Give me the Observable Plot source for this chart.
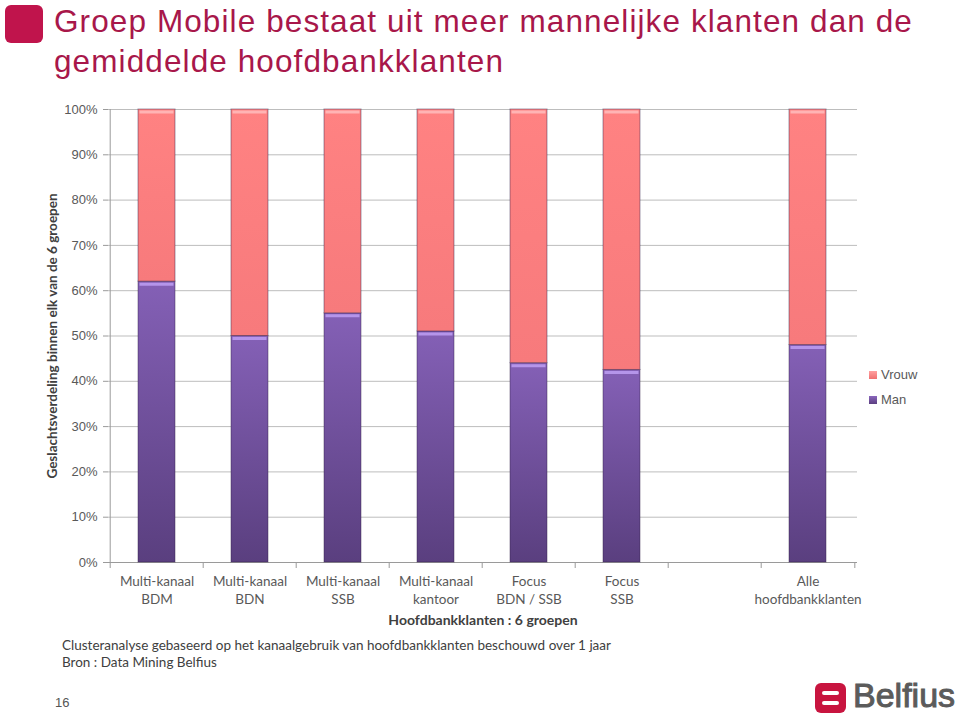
<!DOCTYPE html>
<html>
<head>
<meta charset="utf-8">
<script src="https://cdn.jsdelivr.net/npm/d3@7"></script>
<script src="https://cdn.jsdelivr.net/npm/@observablehq/plot@0.6"></script>
<style>
  html, body { margin: 0; padding: 0; background: #fff; }
  #page { position: relative; width: 960px; height: 716px; overflow: hidden; background: #fff; }
  .abs { position: absolute; white-space: nowrap; }
  #title { left: 54px; top: 1px; font-family: "Liberation Sans", Arial, sans-serif; font-size: 31.5px; line-height: 40px; color: #A8174A; letter-spacing: 1.1px; }
  #icon { left: 5px; top: 5px; width: 38px; height: 38px; border-radius: 6px; background: #C0144C; }
  .foot { left: 62px; font-family: Lato, "Open Sans", sans-serif; font-size: 13.5px; color: #404040; }
  .leg { font-family: "Liberation Sans", Arial, sans-serif; font-size: 13px; color: #595959; }
  .sw { width: 8px; height: 8px; }
</style>
</head>
<body>
<div id="page">
  <div id="icon" class="abs"></div>
  <div id="title" class="abs">Groep Mobile bestaat uit meer mannelijke klanten dan de<br>gemiddelde hoofdbankklanten</div>
  <div id="chart" class="abs" style="left:0;top:0;"></div>
  <div class="abs sw" style="left:869px;top:371px;background:linear-gradient(#ffa0a0,#f07070);"></div>
  <div class="abs leg" style="left:881px;top:367px;">Vrouw</div>
  <div class="abs sw" style="left:869px;top:396px;background:linear-gradient(#8a66bd,#5b3f80);"></div>
  <div class="abs leg" style="left:881px;top:392px;">Man</div>
  <div class="abs foot" style="top:637px;">Clusteranalyse gebaseerd op het kanaalgebruik van hoofdbankklanten beschouwd over 1 jaar</div>
  <div class="abs foot" style="top:654px;">Bron : Data Mining Belfius</div>
  <div class="abs" style="left:55px;top:695px;font-family:'Liberation Sans',Arial,sans-serif;font-size:13px;color:#555;">16</div>
  <div class="abs" style="left:815px;top:683px;width:31px;height:30px;border-radius:6px;background:#C8143F;"></div>
  <div class="abs" style="left:822px;top:691px;width:17px;height:4px;border-radius:2px;background:#fff;"></div>
  <div class="abs" style="left:822px;top:701px;width:17px;height:4px;border-radius:2px;background:#fff;"></div>
  <svg class="abs" style="left:852px;top:674px;" width="106" height="41">
    <text x="1" y="33" font-family="'Liberation Sans', Arial, sans-serif" font-size="34" fill="#5b5b5b" stroke="#5b5b5b" stroke-width="1">Belfius</text>
  </svg>
</div>
<script>
const categories = ["Multi-kanaal\nBDM", "Multi-kanaal\nBDN", "Multi-kanaal\nSSB", "Multi-kanaal\nkantoor", "Focus\nBDN / SSB", "Focus\nSSB", " ", "Alle\nhoofdbankklanten"];
const manValues = [62, 50, 55, 51, 44, 42.5, null, 48];
const vrouwValues = [38, 50, 45, 49, 56, 57.5, null, 52];
const seriesNames = ["Man", "Vrouw"];
const yTicks = [0, 10, 20, 30, 40, 50, 60, 70, 80, 90, 100];
const yLabel = "Geslachtsverdeling binnen elk van de 6 groepen";
const xLabel = "Hoofdbankklanten : 6 groepen";

const rows = [];
categories.forEach((c, i) => {
  if (manValues[i] == null) return;
  rows.push({cat: c, series: "Man", value: manValues[i]});
  rows.push({cat: c, series: "Vrouw", value: vrouwValues[i]});
});
const tops = categories.map((c, i) => ({cat: c, man: manValues[i], total: manValues[i] == null ? null : manValues[i] + vrouwValues[i]})).filter(d => d.man != null);

const W = 960, H = 640, mL = 108, mR = 103, mT = 109, mB = 78;
const step = (W - mL - mR) / categories.length;

const chart = Plot.plot({
  width: W, height: H,
  marginLeft: mL, marginRight: mR, marginTop: mT, marginBottom: mB,
  style: {fontFamily: "Lato, 'Open Sans', sans-serif", background: "transparent"},
  x: {domain: categories, paddingInner: 0.6, paddingOuter: 0.3, axis: null},
  y: {domain: [0, 100], axis: null},
  color: {domain: seriesNames, range: ["url(#gMan)", "url(#gVrouw)"]},
  marks: [
    Plot.gridY(yTicks, {stroke: "#bdbdbd", strokeOpacity: 1}),
    Plot.axisY(yTicks, {tickFormat: d => d + "%", tickSize: 5, tickPadding: 6, stroke: "#9a9a9a", fill: "#595959", fontSize: 13, fontFamily: "'Liberation Sans', Arial, sans-serif", label: null}),
    Plot.ruleX([categories[0]], {y1: 0, y2: 100, dx: -step / 2, stroke: "#9a9a9a"}),
    Plot.ruleY([0], {stroke: "#9a9a9a"}),
    Plot.ruleX(categories, {y1: 0, y2: 0, insetTop: 6, dx: -step / 2, stroke: "#9a9a9a"}),
    Plot.ruleX([categories[categories.length - 1]], {y1: 0, y2: 0, insetTop: 6, dx: step / 2, stroke: "#9a9a9a"}),
    Plot.axisX({tickSize: 0, tickPadding: 11, fill: "#595959", fontSize: 13.5, lineHeight: 1.3, label: null}),
    Plot.barY(rows, {x: "cat", y: "value", fill: "series", stroke: "rgba(50,30,70,0.45)", strokeWidth: 1}),
    Plot.tickY(tops, {x: "cat", y: "man", stroke: "#b595ea", strokeWidth: 3, dy: 2.5, inset: 1.5}),
    Plot.tickY(tops, {x: "cat", y: "total", stroke: "#ffb4b4", strokeWidth: 3, dy: 2.5, inset: 1.5}),
    Plot.text([yLabel], {frameAnchor: "left", textAnchor: "middle", rotate: -90, dx: -56, fontWeight: "bold", fontSize: 13.5, fill: "#404040"}),
    Plot.text([xLabel], {frameAnchor: "bottom", dy: 62, fontWeight: "bold", fontSize: 14, fill: "#404040"})
  ]
});

const svg = d3.select(chart);
const defs = svg.insert("defs", ":first-child");
const gm = defs.append("linearGradient").attr("id", "gMan").attr("x1", 0).attr("y1", 0).attr("x2", 0).attr("y2", 1);
gm.append("stop").attr("offset", "0%").attr("stop-color", "#8460b6");
gm.append("stop").attr("offset", "100%").attr("stop-color", "#5a3f7f");
const gv = defs.append("linearGradient").attr("id", "gVrouw").attr("x1", 0).attr("y1", 0).attr("x2", 0).attr("y2", 1);
gv.append("stop").attr("offset", "0%").attr("stop-color", "#ff8282");
gv.append("stop").attr("offset", "100%").attr("stop-color", "#f77a7c");

document.getElementById("chart").appendChild(chart);
</script>
</body>
</html>
